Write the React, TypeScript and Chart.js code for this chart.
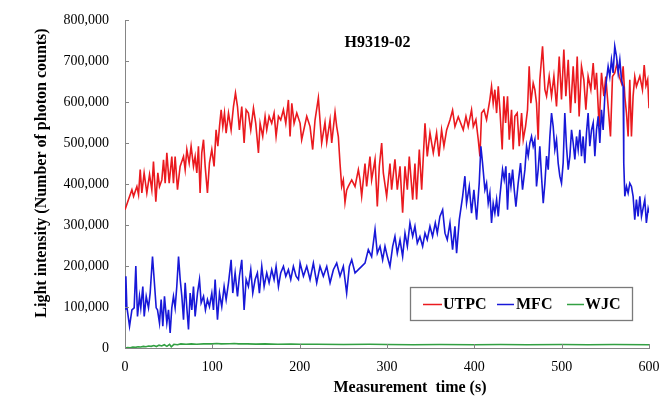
import React, { useEffect, useRef } from 'react';
import { Chart, registerables } from 'chart.js';

Chart.register(...registerables);

const FONT = "'Times New Roman', 'Liberation Serif', Times, serif";
const AXIS_COLOR = '#858585';

const CHART_TITLE = 'H9319-02';
const X_TITLE = 'Measurement  time (s)';
const Y_TITLE = 'Light intensity (Number of photon counts)';
const SERIES_NAMES = ['UTPC', 'MFC', 'WJC'];
const SERIES_COLORS = ['#ea1a1f', '#1818d8', '#33a043'];

const X_TICKS = [0, 100, 200, 300, 400, 500, 600];
const Y_TICKS = [0, 100000, 200000, 300000, 400000, 500000, 600000, 700000, 800000];

const UTPC_TIME = [
  0, 4.0, 7.9, 9.8, 13.6, 15.5, 17.4, 19.3, 21.9, 25.0, 28.1, 30.7, 32.6, 35.3, 37.6, 39.5, 42.2, 44.1, 46.0, 47.9,
  50.6, 53.6, 55.5, 57.4, 60.1, 63.1, 67.0, 68.9, 70.8, 73.5, 75.7, 78.4, 80.3, 82.2, 84.1, 86.0, 87.9, 89.9, 91.8, 94.4,
  96.7, 99.4, 102.0, 104.3, 106.3, 108.2, 110.1, 112.0, 113.9, 115.8, 118.5, 121.5, 124.2, 126.5, 128.8, 131.0, 133.7, 136.4, 138.7, 141.3,
  144.0, 147.1, 149.7, 152.8, 154.7, 157.7, 160.4, 162.3, 165.0, 168.0, 170.7, 173.0, 175.7, 178.3, 181.4, 184.1, 187.1, 189.0, 191.0, 193.6,
  196.7, 200.5, 202.3, 208.1, 211.9, 214.9, 217.6, 221.4, 225.2, 229.0, 231.0, 234.8, 236.7, 240.5, 242.4, 244.3, 246.2, 248.1, 250.0, 251.9,
  253.8, 255.7, 259.6, 263.4, 267.2, 269.1, 271.0, 274.8, 276.7, 280.5, 282.4, 286.3, 288.9, 291.2, 293.9, 295.8, 299.6, 303.4, 305.3, 309.1,
  311.8, 314.9, 317.9, 320.6, 323.3, 325.5, 329.4, 332.0, 333.9, 337.0, 339.7, 343.5, 346.1, 349.2, 353.0, 356.8, 359.5, 362.5, 365.2, 368.3,
  372.1, 375.1, 377.8, 381.6, 387.3, 390.4, 393.0, 396.8, 398.8, 401.8, 404.5, 406.4, 408.3, 411.0, 414.0, 417.8, 419.7, 421.6, 423.5, 425.5,
  427.4, 429.3, 431.9, 433.8, 435.8, 438.0, 440.0, 442.6, 444.5, 446.4, 449.1, 451.4, 454.1, 456.0, 458.6, 460.9, 462.8, 464.7, 467.4, 469.3,
  471.2, 473.1, 475.0, 478.1, 480.8, 482.7, 485.7, 488.4, 491.1, 494.1, 497.2, 499.8, 502.5, 504.8, 507.5, 510.1, 513.2, 515.5, 517.8, 520.0,
  522.7, 525.4, 527.7, 530.3, 533.4, 536.1, 538.0, 539.9, 542.9, 545.6, 548.3, 550.5, 553.2, 555.9, 558.2, 560.8, 563.5, 565.8, 568.5, 570.4,
  572.3, 574.2, 576.1, 578.0, 579.9, 581.8, 583.7, 585.6, 589.5, 592.5, 594.5, 596.5, 598.5, 600,
];
const UTPC_VALUE = [
  337000, 362000, 386000, 370000, 394000, 374000, 435000, 378000, 427000, 378000, 423000, 386000, 455000, 357000, 427000, 394000, 410000, 459000, 402000, 476000,
  402000, 467000, 402000, 467000, 386000, 443000, 467000, 435000, 484000, 451000, 492000, 443000, 467000, 427000, 492000, 378000, 476000, 508000, 443000, 378000,
  451000, 484000, 443000, 532000, 492000, 540000, 581000, 540000, 573000, 524000, 573000, 532000, 589000, 622000, 589000, 532000, 589000, 500000, 581000, 573000,
  532000, 585000, 548000, 476000, 548000, 516000, 565000, 532000, 565000, 548000, 573000, 516000, 565000, 556000, 581000, 548000, 605000, 516000, 597000, 548000,
  573000, 548000, 508000, 565000, 540000, 484000, 556000, 610000, 500000, 550000, 502000, 556000, 500000, 575000, 540000, 515000, 450000, 394000, 410000, 355000,
  385000, 394000, 410000, 394000, 435000, 410000, 370000, 450000, 394000, 467000, 410000, 460000, 345000, 443000, 500000, 427000, 370000, 450000, 386000, 460000,
  386000, 443000, 330000, 443000, 386000, 467000, 362000, 450000, 362000, 484000, 386000, 548000, 467000, 525000, 476000, 525000, 467000, 532000, 492000, 532000,
  556000, 580000, 540000, 564000, 532000, 565000, 540000, 581000, 540000, 557000, 508000, 467000, 573000, 581000, 557000, 606000, 638000, 597000, 630000, 573000,
  638000, 581000, 484000, 614000, 549000, 614000, 508000, 581000, 484000, 565000, 573000, 492000, 573000, 508000, 540000, 581000, 687000, 597000, 646000, 630000,
  597000, 508000, 654000, 736000, 630000, 614000, 663000, 614000, 663000, 589000, 711000, 606000, 728000, 614000, 703000, 573000, 687000, 597000, 711000, 565000,
  687000, 654000, 581000, 663000, 630000, 695000, 630000, 671000, 540000, 671000, 614000, 662000, 589000, 516000, 662000, 671000, 695000, 663000, 646000, 687000,
  614000, 573000, 516000, 654000, 516000, 614000, 662000, 638000, 663000, 630000, 690000, 640000, 655000, 585000,
];

const MFC_TIME = [
  0, 1.0, 2.1, 5.2, 7.9, 10.5, 12.4, 14.3, 16.6, 18.1, 20.4, 22.0, 24.3, 26.9, 28.8, 31.5, 33.4, 35.7, 37.2, 39.5,
  41.4, 43.3, 45.2, 47.9, 49.8, 51.7, 53.6, 55.5, 57.4, 59.3, 61.3, 63.2, 65.1, 67.0, 68.9, 70.8, 72.7, 74.6, 76.5, 78.4,
  80.3, 83.0, 85.3, 87.2, 89.9, 92.1, 94.4, 96.7, 99.4, 101.3, 103.2, 105.9, 108.2, 110.8, 113.5, 115.8, 118.5, 121.5, 123.4, 126.1,
  128.8, 131.0, 133.7, 136.4, 138.7, 141.3, 144.0, 146.3, 149.0, 151.6, 153.9, 156.6, 159.3, 162.3, 165.0, 168.0, 170.7, 173.0, 175.7, 178.3,
  181.4, 184.1, 187.1, 189.8, 192.8, 195.9, 198.6, 200.5, 204.3, 208.1, 211.9, 215.7, 219.5, 223.3, 227.1, 231.0, 234.8, 238.6, 242.4, 246.2,
  250.0, 253.8, 256.9, 259.6, 263.4, 267.2, 271.0, 274.8, 278.6, 282.4, 286.3, 288.9, 292.0, 295.0, 297.7, 300.4, 303.4, 306.5, 309.1, 311.8,
  314.9, 317.9, 320.6, 323.3, 326.3, 329.4, 332.0, 334.7, 337.7, 340.8, 343.5, 346.1, 349.2, 352.2, 355.3, 357.6, 360.6, 363.7, 366.4, 369.0,
  372.1, 375.1, 377.8, 379.7, 382.8, 386.6, 389.2, 391.1, 394.2, 396.8, 399.5, 402.6, 405.6, 407.5, 409.4, 412.1, 414.0, 415.9, 417.8, 419.7,
  421.6, 423.5, 425.5, 427.4, 429.3, 432.3, 434.2, 436.1, 438.0, 440.0, 441.9, 443.8, 445.7, 447.6, 450.2, 452.9, 455.2, 457.9, 459.8, 461.7,
  463.6, 465.5, 467.4, 469.3, 471.2, 473.1, 475.0, 476.9, 478.9, 480.8, 482.7, 484.6, 486.5, 488.4, 490.3, 492.2, 494.1, 496.0, 497.9, 499.8,
  501.7, 503.6, 505.5, 507.5, 509.4, 511.3, 513.2, 515.1, 517.0, 518.9, 520.8, 522.7, 524.6, 526.5, 528.4, 530.3, 532.2, 534.2, 536.1, 538.0,
  539.9, 541.8, 543.7, 545.6, 547.5, 549.4, 551.3, 553.2, 555.1, 557.0, 558.9, 560.8, 562.8, 564.7, 566.6, 568.5, 570.4, 571.1, 572.3, 574.2,
  576.1, 578.0, 579.9, 581.8, 583.7, 585.6, 587.5, 589.5, 591.4, 595.2, 597.0, 599.0, 600,
];
const MFC_VALUE = [
  95000, 175000, 101000, 53000, 93000, 98000, 200000, 77000, 126000, 98000, 150000, 77000, 126000, 98000, 134000, 223000, 167000, 98000, 93000, 61000,
  118000, 53000, 126000, 61000, 93000, 37000, 98000, 126000, 98000, 150000, 223000, 167000, 126000, 69000, 159000, 98000, 45000, 134000, 93000, 150000,
  77000, 134000, 167000, 110000, 126000, 93000, 118000, 101000, 134000, 93000, 167000, 69000, 134000, 101000, 150000, 118000, 159000, 215000, 134000, 183000,
  126000, 175000, 215000, 93000, 167000, 150000, 191000, 134000, 167000, 183000, 134000, 199000, 150000, 183000, 159000, 191000, 167000, 199000, 150000, 183000,
  199000, 175000, 191000, 167000, 199000, 175000, 167000, 207000, 175000, 199000, 167000, 207000, 159000, 199000, 175000, 199000, 159000, 191000, 207000, 175000,
  199000, 134000, 199000, 215000, 183000, 191000, 199000, 207000, 240000, 223000, 289000, 231000, 248000, 215000, 248000, 223000, 199000, 248000, 272000, 231000,
  264000, 223000, 280000, 248000, 305000, 272000, 297000, 256000, 272000, 248000, 280000, 264000, 297000, 272000, 305000, 280000, 321000, 337000, 280000, 264000,
  305000, 240000, 297000, 231000, 313000, 370000, 419000, 353000, 394000, 329000, 386000, 313000, 402000, 492000, 451000, 386000, 402000, 353000, 378000, 305000,
  353000, 329000, 362000, 321000, 370000, 435000, 411000, 443000, 337000, 427000, 394000, 435000, 386000, 345000, 402000, 451000, 386000, 435000, 492000, 468000,
  500000, 516000, 492000, 508000, 394000, 435000, 492000, 419000, 353000, 402000, 468000, 435000, 516000, 573000, 540000, 484000, 508000, 451000, 419000, 402000,
  451000, 573000, 492000, 435000, 468000, 532000, 500000, 460000, 516000, 484000, 532000, 468000, 516000, 451000, 524000, 573000, 492000, 532000, 549000, 468000,
  532000, 565000, 500000, 581000, 532000, 614000, 654000, 687000, 662000, 703000, 671000, 736000, 711000, 671000, 703000, 654000, 638000, 451000, 370000, 394000,
  378000, 402000, 394000, 370000, 313000, 362000, 321000, 370000, 321000, 362000, 305000, 340000, 330000,
];

const WJC_TIME = [
  0, 3, 6, 9, 12, 15, 18, 21, 24, 27, 30, 33, 36, 39, 42, 45, 48, 51, 53, 56,
  60, 64, 70, 76, 82, 90, 100, 105, 110, 120, 125, 130, 140, 150, 160, 175, 190, 200, 220, 250,
  280, 300, 330, 360, 400, 430, 460, 500, 530, 560, 600,
];
const WJC_VALUE = [
  0, 1000, 500, 2000, 1500, 3000, 2500, 4000, 3000, 5000, 4000, 6000, 3500, 7000, 5000, 8000, 4000, 9000, 3000, 9000,
  8000, 10000, 9000, 10000, 9000, 10000, 10000, 11000, 10000, 10500, 11000, 10000, 10000, 9500, 10000, 9000, 9500, 9000, 9000, 8500,
  9000, 8500, 8000, 8500, 8000, 8500, 8000, 8500, 8000, 8500, 8000,
];

const SERIES_TIMES = [UTPC_TIME, MFC_TIME, WJC_TIME];
const SERIES_VALUES = [UTPC_VALUE, MFC_VALUE, WJC_VALUE];
const SERIES_ORDER = [2, 1, 0];

const decorPlugin = {
  id: 'decor',
  afterDraw(chart: any) {
    const { ctx, chartArea, scales } = chart;
    const xs = scales.x;
    const ys = scales.y;
    ctx.save();
    ctx.strokeStyle = AXIS_COLOR;
    ctx.lineWidth = 1;
    ys.ticks.forEach((t: any) => {
      const py = Math.round(ys.getPixelForValue(t.value)) + 0.5;
      ctx.beginPath();
      ctx.moveTo(chartArea.left, py);
      ctx.lineTo(chartArea.left + 4, py);
      ctx.stroke();
    });
    xs.ticks.forEach((t: any) => {
      const px = Math.round(xs.getPixelForValue(t.value)) + 0.5;
      ctx.beginPath();
      ctx.moveTo(px, chartArea.bottom);
      ctx.lineTo(px, chartArea.bottom - 4);
      ctx.stroke();
    });

    ctx.fillStyle = '#000';
    ctx.textAlign = 'center';
    ctx.textBaseline = 'middle';
    ctx.font = `bold 16px ${FONT}`;
    ctx.fillText(CHART_TITLE, 377.5, 43);
    ctx.fillText(X_TITLE, 410, 388);
    ctx.save();
    ctx.translate(42, 173);
    ctx.rotate(-Math.PI / 2);
    ctx.fillText(Y_TITLE, 0, 0);
    ctx.restore();

    const bx = 410.5, by = 287.5, bw = 222, bh = 33;
    ctx.fillStyle = '#fff';
    ctx.fillRect(bx, by, bw, bh);
    ctx.strokeStyle = '#7a7a7a';
    ctx.lineWidth = 1.3;
    ctx.strokeRect(bx, by, bw, bh);
    const items = [
      { l0: 423, l1: 442, tx: 443 },
      { l0: 497, l1: 514, tx: 516 },
      { l0: 567, l1: 584, tx: 585 },
    ];
    const ly = 304.5;
    ctx.textAlign = 'left';
    items.forEach((it, i) => {
      ctx.strokeStyle = SERIES_COLORS[i];
      ctx.lineWidth = 1.5;
      ctx.beginPath();
      ctx.moveTo(it.l0, ly);
      ctx.lineTo(it.l1, ly);
      ctx.stroke();
      ctx.fillStyle = '#000';
      ctx.fillText(SERIES_NAMES[i], it.tx, ly + 0.5);
    });
    ctx.restore();
  },
};

export default function App() {
  const ref = useRef<HTMLCanvasElement>(null);

  useEffect(() => {
    const canvas = ref.current;
    if (!canvas) return;
    const datasets = SERIES_NAMES.map((name, i) => ({
      label: name,
      data: SERIES_TIMES[i].map((t, k) => ({ x: t, y: SERIES_VALUES[i][k] })),
      borderColor: SERIES_COLORS[i],
      backgroundColor: SERIES_COLORS[i],
      borderWidth: 1.6,
      pointRadius: 0,
      tension: 0,
      fill: false,
      order: SERIES_ORDER[i],
    }));

    const chart = new Chart(canvas, {
      type: 'line',
      data: { datasets },
      options: {
        animation: false,
        responsive: false,
        devicePixelRatio: 1,
        layout: { padding: { top: 20, right: 12, bottom: 0, left: 0 } },
        plugins: {
          legend: { display: false },
          title: { display: false },
          tooltip: { enabled: false },
        },
        scales: {
          x: {
            type: 'linear',
            min: 0,
            max: 600,
            afterBuildTicks: (scale: any) => {
              scale.ticks = X_TICKS.map((v) => ({ value: v }));
            },
            afterFit: (scale: any) => {
              scale.height = 49;
              scale.paddingLeft = 0;
              scale.paddingRight = 0;
            },
            grid: { display: false, drawTicks: false },
            border: { display: true, color: AXIS_COLOR, width: 1 },
            ticks: {
              color: '#000',
              padding: 11,
              maxRotation: 0,
              font: { family: FONT, size: 14 },
            },
          },
          y: {
            type: 'linear',
            min: 0,
            max: 800000,
            afterBuildTicks: (scale: any) => {
              scale.ticks = Y_TICKS.map((v) => ({ value: v }));
            },
            afterFit: (scale: any) => {
              scale.width = 125;
              scale.paddingTop = 0;
              scale.paddingBottom = 0;
            },
            grid: { display: false, drawTicks: false },
            border: { display: true, color: AXIS_COLOR, width: 1 },
            ticks: {
              color: '#000',
              padding: 16,
              font: { family: FONT, size: 14 },
              callback: (v: any) => Number(v).toLocaleString('en-US'),
            },
          },
        },
      },
      plugins: [decorPlugin],
    });
    return () => chart.destroy();
  }, []);

  return (
    <div style={{ position: 'fixed', left: 0, top: 0, width: 661, height: 397, background: '#fff' }}>
      <canvas ref={ref} width={661} height={397} style={{ display: 'block' }} />
    </div>
  );
}
